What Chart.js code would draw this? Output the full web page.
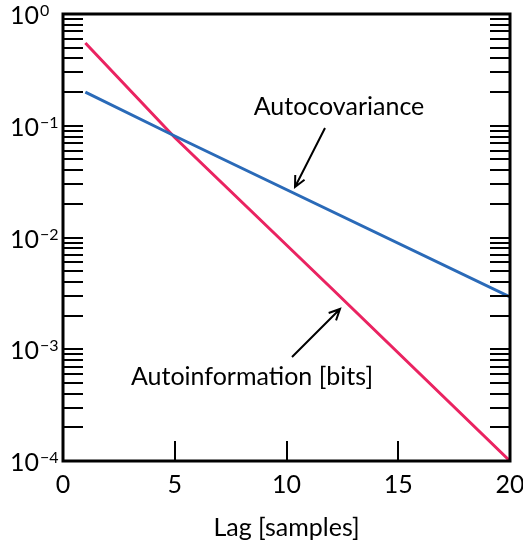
<!DOCTYPE html>
<html>
<head>
<meta charset="utf-8">
<script src="https://cdn.jsdelivr.net/npm/chart.js@4/dist/chart.umd.min.js"></script>
<style>
  html, body { margin: 0; padding: 0; background: #fff; }
  #chart { display: block; }
</style>
</head>
<body>
<canvas id="chart" width="523" height="549"></canvas>
<script>
// Data
const covLags = [1, 5, 20];
const autocovariance = [0.2, 0.081, 0.00294];
const infoLags = [1, 5, 12, 20];
const autoinformation = [0.55, 0.0785, 0.00353, 0.0001];

// Axis ticks
const xTicks = [0, 5, 10, 15, 20];
const yDecades = [0, -1, -2, -3, -4];

const FONT = 'Lato, "Open Sans", sans-serif';

function toPoints(xs, ys) {
    return xs.map((x, i) => ({ x: x, y: ys[i] }));
}

function drawArrow(ctx, x1, y1, x2, y2) {
    const ang = Math.atan2(y2 - y1, x2 - x1);
    const head = 12;
    ctx.beginPath();
    ctx.moveTo(x1, y1);
    ctx.lineTo(x2, y2);
    ctx.moveTo(x2 - head * Math.cos(ang - 0.45), y2 - head * Math.sin(ang - 0.45));
    ctx.lineTo(x2, y2);
    ctx.lineTo(x2 - head * Math.cos(ang + 0.45), y2 - head * Math.sin(ang + 0.45));
    ctx.stroke();
}

// Box, inward ticks, labels and annotations
const framePlugin = {
    id: 'frame',
    afterDatasetsDraw(chart) {
        const ctx = chart.ctx;
        const area = chart.chartArea;
        const xs = chart.scales.x;
        const ys = chart.scales.y;
        const tickLen = 20;

        ctx.save();
        ctx.strokeStyle = '#000';
        ctx.fillStyle = '#000';

        // y ticks, both sides
        ctx.lineWidth = 2;
        yDecades.forEach(e => {
            if (e === 0) return;
            for (let m = 1; m <= 9; m++) {
                const py = Math.round(ys.getPixelForValue(m * Math.pow(10, e)));
                ctx.beginPath();
                ctx.moveTo(area.left, py);
                ctx.lineTo(area.left + tickLen, py);
                ctx.moveTo(area.right, py);
                ctx.lineTo(area.right - tickLen, py);
                ctx.stroke();
            }
        });

        // x ticks (bottom only)
        xTicks.forEach(v => {
            if (v === xs.min || v === xs.max) return;
            const px = Math.round(xs.getPixelForValue(v));
            ctx.beginPath();
            ctx.moveTo(px, area.bottom);
            ctx.lineTo(px, area.bottom - tickLen);
            ctx.stroke();
        });

        // box
        ctx.lineWidth = 3;
        ctx.strokeRect(area.left, area.top, area.right - area.left, area.bottom - area.top);

        // x labels
        ctx.font = '25px ' + FONT;
        ctx.textAlign = 'center';
        ctx.textBaseline = 'middle';
        xTicks.forEach(v => {
            ctx.fillText(String(v), xs.getPixelForValue(v), 485);
        });
        ctx.fillText('Lag [samples]', (area.left + area.right) / 2, 528);

        // y labels with superscript exponents
        yDecades.forEach(e => {
            const py = ys.getPixelForValue(Math.pow(10, e));
            ctx.font = '25px ' + FONT;
            ctx.textAlign = 'right';
            ctx.fillText('10', 39, py + 2);
            ctx.font = '16px ' + FONT;
            ctx.textAlign = 'left';
            ctx.fillText(e === 0 ? '0' : '\u2212' + Math.abs(e), 40, py - 3);
        });

        // annotations
        ctx.font = '25px ' + FONT;
        ctx.textAlign = 'center';
        ctx.fillText('Autocovariance', 339, 107);
        ctx.fillText('Autoinformation [bits]', 252, 377);

        ctx.lineWidth = 2;
        drawArrow(ctx, 325, 128, 295, 187);
        drawArrow(ctx, 292, 357, 340, 309);

        ctx.restore();
    }
};

new Chart(document.getElementById('chart'), {
    type: 'line',
    data: {
        datasets: [
            {
                label: 'Autocovariance',
                data: toPoints(covLags, autocovariance),
                borderColor: '#2a6ab8',
                borderWidth: 3,
                pointRadius: 0,
                fill: false
            },
            {
                label: 'Autoinformation [bits]',
                data: toPoints(infoLags, autoinformation),
                borderColor: '#ea2361',
                borderWidth: 3,
                pointRadius: 0,
                fill: false
            }
        ]
    },
    options: {
        responsive: false,
        animation: false,
        layout: {
            padding: { left: 63, top: 14, right: 13, bottom: 88 }
        },
        plugins: {
            legend: { display: false },
            tooltip: { enabled: false }
        },
        scales: {
            x: { type: 'linear', min: 0, max: 20, display: false },
            y: { type: 'logarithmic', min: 1e-4, max: 1, display: false }
        }
    },
    plugins: [framePlugin]
});
</script>
</body>
</html>
